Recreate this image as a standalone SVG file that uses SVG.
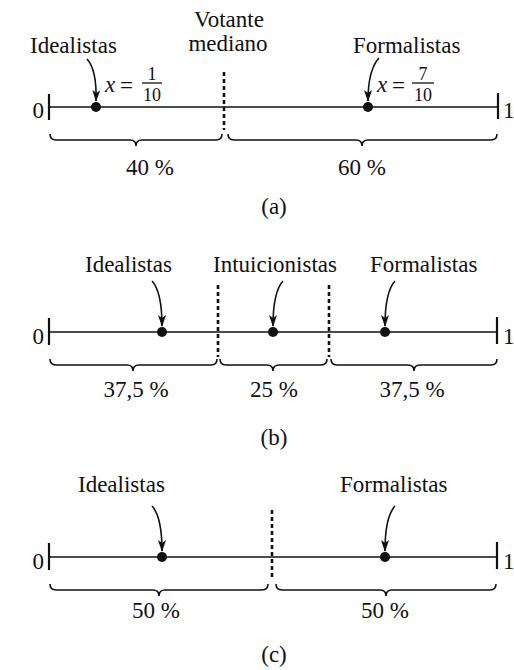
<svg xmlns="http://www.w3.org/2000/svg" width="514" height="670" viewBox="0 0 514 670">
<style>
text{font-family:"Liberation Serif","Times New Roman",serif;fill:#111;}
.lb{font-size:23px;}
.fr{font-size:18px;}
.it{font-style:italic;}
.axis{stroke:#111;stroke-width:1.6;fill:none;}
.tick{stroke:#111;stroke-width:2.2;fill:none;}
.dash{stroke:#111;stroke-width:2.6;stroke-dasharray:4 3;fill:none;}
.brace{stroke:#111;stroke-width:1.6;fill:none;}
.arr{stroke:#111;stroke-width:1.6;fill:none;marker-end:url(#ah);}
.dot{fill:#111;}
</style>
<defs>
<marker id="ah" viewBox="0 0 12 8" refX="11" refY="4" markerWidth="12" markerHeight="8" markerUnits="userSpaceOnUse" orient="auto">
<path d="M0,0 L12,4 L0,8 L3,4 z" fill="#111"/>
</marker>
</defs>

<!-- Panel (a) -->
<g id="panel-a">
<g id="a-axis">
<line class="axis" x1="49" y1="107" x2="498" y2="107"/>
<line class="tick" x1="49" y1="94" x2="49" y2="120"/>
<line class="tick" x1="498" y1="93" x2="498" y2="119"/>
<text class="lb" x="44" y="118" text-anchor="end">0</text>
<text class="lb" x="503" y="118">1</text>
</g>
<g id="a-median">
<line class="dash" x1="224" y1="72" x2="224" y2="130"/>
<text class="lb" x="229" y="27" text-anchor="middle">Votante</text>
<text class="lb" x="228" y="51" text-anchor="middle">mediano</text>
</g>
<g id="a-idealistas">
<text class="lb" x="30" y="53">Idealistas</text>
<circle class="dot" cx="96" cy="107" r="5"/>
<text class="lb it" x="105" y="92">x</text>
<text class="lb" x="120" y="93">=</text>
<text class="fr" x="152" y="80" text-anchor="middle">1</text>
<line x1="142" y1="83" x2="162" y2="83" stroke="#111" stroke-width="1.3"/>
<text class="fr" x="152" y="101" text-anchor="middle">10</text>
</g>
<g id="a-formalistas">
<text class="lb" x="353" y="53">Formalistas</text>
<circle class="dot" cx="368" cy="107" r="5"/>
<text class="lb it" x="377" y="92">x</text>
<text class="lb" x="392" y="93">=</text>
<text class="fr" x="423" y="80" text-anchor="middle">7</text>
<line x1="412" y1="83" x2="434" y2="83" stroke="#111" stroke-width="1.3"/>
<text class="fr" x="423" y="101" text-anchor="middle">10</text>
</g>
<g id="a-braces">
<path class="brace" d="M50,134 Q50,140 56,140 L130,140 Q136,140 136,146 Q136,140 142,140 L216,140 Q222,140 222,134"/>
<path class="brace" d="M228,134 Q228,140 234,140 L356,140 Q362,140 362,146 Q362,140 368,140 L491,140 Q497,140 497,134"/>
<text class="lb" x="150" y="175" text-anchor="middle">40 %</text>
<text class="lb" x="362" y="175" text-anchor="middle">60 %</text>
</g>
<text class="lb" x="274" y="214" text-anchor="middle">(a)</text>
</g>

<!-- Panel (b) -->
<g id="panel-b">
<g id="b-axis">
<line class="axis" x1="49" y1="332" x2="497" y2="332"/>
<line class="tick" x1="49" y1="318" x2="49" y2="345"/>
<line class="tick" x1="497" y1="317" x2="497" y2="344"/>
<text class="lb" x="44" y="344" text-anchor="end">0</text>
<text class="lb" x="503" y="344">1</text>
</g>
<g id="b-dividers">
<line class="dash" x1="218" y1="285" x2="218" y2="357"/>
<line class="dash" x1="329" y1="285" x2="329" y2="357"/>
</g>
<g id="b-idealistas">
<text class="lb" x="85" y="272">Idealistas</text>
<circle class="dot" cx="162" cy="332" r="5"/>
</g>
<g id="b-intuicionistas">
<text class="lb" x="213" y="272">Intuicionistas</text>
<circle class="dot" cx="273" cy="332" r="5"/>
</g>
<g id="b-formalistas">
<text class="lb" x="370" y="272">Formalistas</text>
<circle class="dot" cx="385" cy="332" r="5"/>
</g>
<g id="b-braces">
<path class="brace" d="M50,359 Q50,365 56,365 L127,365 Q133,365 133,371 Q133,365 139,365 L211,365 Q217,365 217,359"/>
<path class="brace" d="M220,359 Q220,365 226,365 L267,365 Q273,365 273,371 Q273,365 279,365 L321,365 Q327,365 327,359"/>
<path class="brace" d="M331,359 Q331,365 337,365 L408,365 Q414,365 414,371 Q414,365 420,365 L491,365 Q497,365 497,359"/>
<text class="lb" x="136" y="397" text-anchor="middle">37,5 %</text>
<text class="lb" x="274" y="397" text-anchor="middle">25 %</text>
<text class="lb" x="412" y="397" text-anchor="middle">37,5 %</text>
</g>
<text class="lb" x="274" y="445" text-anchor="middle">(b)</text>
</g>

<!-- Panel (c) -->
<g id="panel-c">
<g id="c-axis">
<line class="axis" x1="49" y1="557" x2="497" y2="557"/>
<line class="tick" x1="49" y1="543" x2="49" y2="570"/>
<line class="tick" x1="497" y1="542" x2="497" y2="569"/>
<text class="lb" x="44" y="569" text-anchor="end">0</text>
<text class="lb" x="503" y="569">1</text>
</g>
<g id="c-divider">
<line class="dash" x1="272" y1="510" x2="272" y2="580"/>
</g>
<g id="c-idealistas">
<text class="lb" x="78" y="492">Idealistas</text>
<circle class="dot" cx="162" cy="557" r="5"/>
</g>
<g id="c-formalistas">
<text class="lb" x="340" y="492">Formalistas</text>
<circle class="dot" cx="385" cy="557" r="5"/>
</g>
<g id="c-braces">
<path class="brace" d="M50,584 Q50,590 56,590 L153,590 Q159,590 159,596 Q159,590 165,590 L262,590 Q268,590 268,584"/>
<path class="brace" d="M276,584 Q276,590 282,590 L380,590 Q386,590 386,596 Q386,590 392,590 L490,590 Q496,590 496,584"/>
<text class="lb" x="156" y="618" text-anchor="middle">50 %</text>
<text class="lb" x="385" y="618" text-anchor="middle">50 %</text>
</g>
<text class="lb" x="274" y="662" text-anchor="middle">(c)</text>
</g>

<!-- Connectors -->
<g id="connectors">
<path class="arr" d="M87,59 Q97,70 96,101"/>
<path class="arr" d="M379,58 Q368,70 368,101"/>
<path class="arr" d="M152,281 Q162,292 162,326"/>
<path class="arr" d="M283,281 Q273,292 273,326"/>
<path class="arr" d="M395,281 Q385,292 385,326"/>
<path class="arr" d="M152,506 Q162,517 162,551"/>
<path class="arr" d="M395,506 Q385,517 385,551"/>
</g>
</svg>
